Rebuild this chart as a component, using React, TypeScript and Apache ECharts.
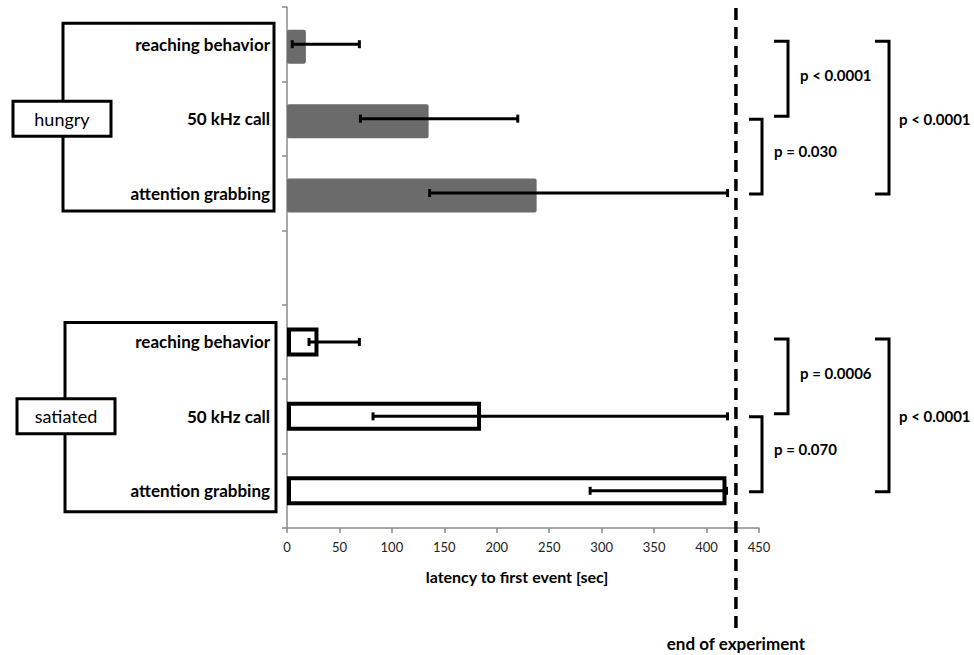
import React, { useEffect, useRef } from "react";
import * as echarts from "echarts";

// ---- data ----
const behaviors = ["reaching behavior", "50 kHz call", "attention grabbing"];
const groups = ["hungry", "satiated"];
const hungryMedian = [18, 135, 238];
const hungryLow = [5, 70, 136];
const hungryHigh = [69, 220, 420];
const satiatedMedian = [30, 185, 419];
const satiatedLow = [21, 82, 289];
const satiatedHigh = [69, 420, 419];
const hungryP = ["p < 0.0001", "p = 0.030", "p < 0.0001"];
const satiatedP = ["p = 0.0006", "p = 0.070", "p < 0.0001"];
const xMin = 0;
const xMax = 450;
const xInterval = 50;
const endOfExperiment = 428;
const xAxisTitle = "latency to first event [sec]";
const endLabel = "end of experiment";

const categories = [
  ...behaviors.map((b) => "hungry|" + b),
  "gap|",
  ...behaviors.map((b) => "satiated|" + b),
];

const FONT = "Lato, 'Open Sans', sans-serif";

export default function App() {
  const ref = useRef<HTMLDivElement>(null);
  useEffect(() => {
    if (!ref.current) return;
    const chart = echarts.init(ref.current, undefined, { renderer: "svg" });
    const hungryBars = categories.map((_, i) => (i < 3 ? hungryMedian[i] : "-"));
    const satBars = categories.map((_, i) => (i > 3 ? satiatedMedian[i - 4] : "-"));
    const errData: any[] = [];
    for (let i = 0; i < 3; i++) errData.push([hungryLow[i], hungryHigh[i], i]);
    for (let i = 0; i < 3; i++) errData.push([satiatedLow[i], satiatedHigh[i], i + 4]);

    chart.setOption({
      animation: false,
      backgroundColor: "#ffffff",
      grid: { left: 287, top: 7, width: 472, height: 521, containLabel: false },
      xAxis: {
        type: "value",
        min: xMin,
        max: xMax,
        interval: xInterval,
        name: xAxisTitle,
        nameLocation: "middle",
        nameGap: 40,
        nameTextStyle: { fontFamily: FONT, fontWeight: "bold", fontSize: 16, color: "#000", padding: [0, 12, 0, 0] },
        axisLine: { show: true, lineStyle: { color: "#8a8a8a", width: 1.5 } },
        axisTick: { show: true, length: 5, lineStyle: { color: "#8a8a8a", width: 1.5 } },
        axisLabel: { fontFamily: FONT, fontSize: 13, color: "#222", margin: 12 },
        splitLine: { show: false },
      },
      yAxis: {
        type: "category",
        inverse: true,
        data: categories,
        axisLine: { show: true, lineStyle: { color: "#8a8a8a", width: 1.5 } },
        axisTick: { show: true, length: 5, lineStyle: { color: "#8a8a8a", width: 1.5 } },
        axisLabel: {
          fontFamily: FONT,
          fontWeight: "bold",
          fontSize: 17,
          color: "#000",
          margin: 17,
          formatter: (v: string) => v.split("|")[1],
        },
        splitLine: { show: false },
      },
      series: [
        {
          type: "bar",
          name: groups[0],
          data: hungryBars,
          barWidth: 34,
          barGap: "-100%",
          itemStyle: { color: "#6b6b6b", borderRadius: 2 },
        },
        {
          type: "bar",
          name: groups[1],
          data: satBars,
          barWidth: 29,
          barGap: "-100%",
          itemStyle: { color: "#ffffff", borderColor: "#000", borderWidth: 4 },
        },
        {
          type: "custom",
          data: errData,
          encode: { x: [0, 1], y: 2 },
          z: 10,
          renderItem: (params: any, api: any) => {
            const lo = api.value(0);
            const hi = api.value(1);
            const c = api.value(2);
            const p1 = api.coord([lo, c]);
            const p2 = api.coord([hi, c]);
            const cap = 4;
            const st = { stroke: "#000", lineWidth: 3 };
            return {
              type: "group",
              children: [
                { type: "line", shape: { x1: p1[0], y1: p1[1], x2: p2[0], y2: p2[1] }, style: st },
                { type: "line", shape: { x1: p1[0], y1: p1[1] - cap, x2: p1[0], y2: p1[1] + cap }, style: st },
                { type: "line", shape: { x1: p2[0], y1: p2[1] - cap, x2: p2[0], y2: p2[1] + cap }, style: st },
              ],
            };
          },
        },
      ],
    });

    const cy = (i: number) => chart.convertToPixel({ yAxisIndex: 0 }, i) as number;
    const xEnd = chart.convertToPixel({ xAxisIndex: 0 }, endOfExperiment) as number;

    const graphics: any[] = [];
    const txt = (text: string, x: number, y: number, size: number, weight: string, align: string) => ({
      type: "text",
      z: 20,
      style: {
        text,
        x,
        y,
        fontFamily: FONT,
        fontSize: size,
        fontWeight: weight,
        fill: "#000",
        align,
        verticalAlign: "middle",
        textAlign: align,
        textVerticalAlign: "middle",
      },
    });
    const line = { stroke: "#000", lineWidth: 3, fill: null };

    groups.forEach((g, gi) => {
      const base = gi === 0 ? 0 : 4;
      const c0 = cy(base);
      const c1 = cy(base + 1);
      const c2 = cy(base + 2);
      const boxL = gi === 0 ? 63 : 65;
      const boxR = gi === 0 ? 274 : 276;
      const top = gi === 0 ? c0 - 21 : c0 - 19.5;
      const bottom = gi === 0 ? c2 + 18 : c2 + 21;
      graphics.push({
        type: "rect",
        z: 5,
        shape: { x: boxL, y: top, width: boxR - boxL, height: bottom - top },
        style: { stroke: "#000", lineWidth: 3, fill: null },
      });
      const lbL = gi === 0 ? 13 : 17;
      const lbW = 98;
      const lbH = 35;
      graphics.push({
        type: "rect",
        z: 6,
        shape: { x: lbL, y: c1 - lbH / 2, width: lbW, height: lbH },
        style: { stroke: "#000", lineWidth: 3, fill: "#fff" },
      });
      graphics.push(txt(g, lbL + lbW / 2, c1, 18, "normal", "center"));

      const pv = gi === 0 ? hungryP : satiatedP;
      // bracket A
      const aT = c0 - 3, aB = c1 - 2.5;
      graphics.push({ type: "polyline", z: 10, shape: { points: [[774, aT], [788, aT], [788, aB], [774, aB]] }, style: line });
      graphics.push(txt(pv[0], 800, (c0 + c1) / 2 - 6, 15, "bold", "left"));
      // bracket B
      const bT = c1 + 0.5, bB = c2 + 1;
      graphics.push({ type: "polyline", z: 10, shape: { points: [[749, bT], [762, bT], [762, bB], [749, bB]] }, style: line });
      graphics.push(txt(pv[1], 774, (c1 + c2) / 2 - 5, 15, "bold", "left"));
      // bracket C
      graphics.push({ type: "polyline", z: 10, shape: { points: [[875, aT], [889, aT], [889, bB], [875, bB]] }, style: line });
      graphics.push(txt(pv[2], 899, c1, 15, "bold", "left"));
    });

    graphics.push({
      type: "line",
      z: 15,
      shape: { x1: xEnd, y1: 8, x2: xEnd, y2: 631 },
      style: { stroke: "#000", lineWidth: 3.5, lineDash: [12, 7] },
    });
    graphics.push(txt(endLabel, xEnd, 643, 17, "bold", "center"));

    chart.setOption({ graphic: { elements: graphics } });

    return () => chart.dispose();
  }, []);

  return (
    <div
      ref={ref}
      style={{ position: "absolute", left: 0, top: 0, width: 974, height: 655 }}
    />
  );
}
